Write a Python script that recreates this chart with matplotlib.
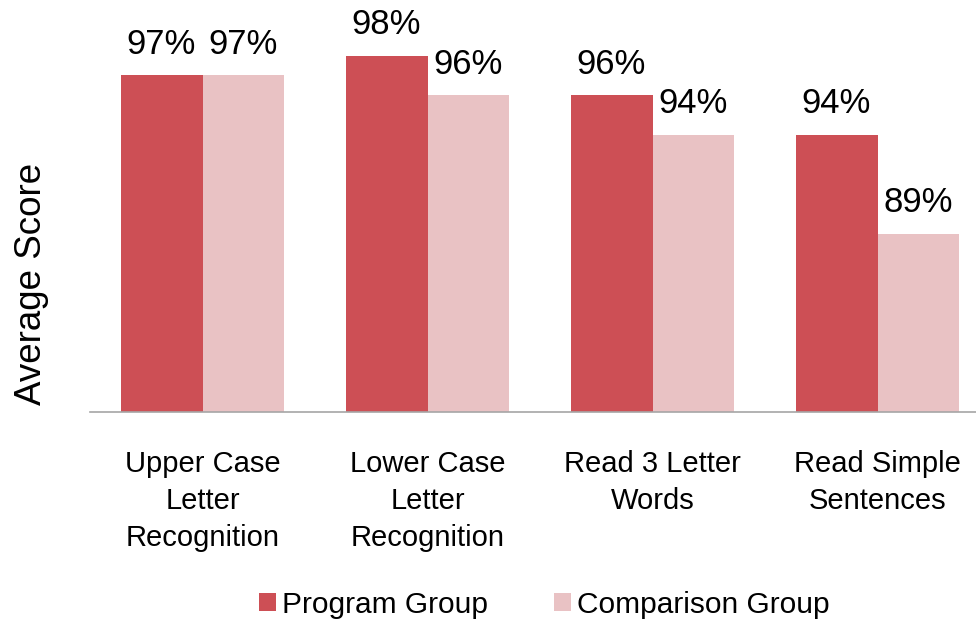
import matplotlib.pyplot as plt
import numpy as np

plt.rcParams['font.family'] = ['Liberation Sans', 'DejaVu Sans']

categories = ['Upper Case\nLetter\nRecognition', 'Lower Case\nLetter\nRecognition',
              'Read 3 Letter\nWords', 'Read Simple\nSentences']
program = [97, 98, 96, 94]
comparison = [97, 96, 94, 89]
series_names = ['Program Group', 'Comparison Group']
colors = ['#CD4F55', '#E9C2C4']

fig = plt.figure(figsize=(9.76, 6.26), dpi=100)
ax = fig.add_axes([90 / 976, 214 / 626, 900 / 976, 396 / 626])

x = np.arange(len(categories))
w = 0.364
bars1 = ax.bar(x - w / 2, program, w, color=colors[0], label=series_names[0])
bars2 = ax.bar(x + w / 2, comparison, w, color=colors[1], label=series_names[1])

# value labels above each bar
for bars, vals in [(bars1, program), (bars2, comparison)]:
    for b, v in zip(bars, vals):
        ax.annotate(f'{v}%', (b.get_x() + b.get_width() / 2, v),
                    xytext=(0, 15.5), textcoords='offset points',
                    ha='center', va='baseline', fontsize=25)

ax.set_xlim(-0.5, 3.5)
ax.set_ylim(80, 100)
ax.set_yticks([])
ax.set_xticks(x)
ax.set_xticklabels(categories, fontsize=21, linespacing=1.42)
ax.tick_params(axis='x', length=0, pad=27)

for s in ['top', 'right', 'left']:
    ax.spines[s].set_visible(False)
ax.spines['bottom'].set_color('#A6A6A6')
ax.spines['bottom'].set_linewidth(1.2)

ax.set_ylabel('Average Score', fontsize=26.5)
ax.yaxis.set_label_coords(-0.045, 0.323)

ax.legend(loc='center', bbox_to_anchor=(0.505, -0.487), ncol=2, frameon=False,
          fontsize=21.5, handlelength=0.56, handleheight=0.54,
          handletextpad=0.22, columnspacing=2.2)

fig.savefig('out.png', dpi=100)
